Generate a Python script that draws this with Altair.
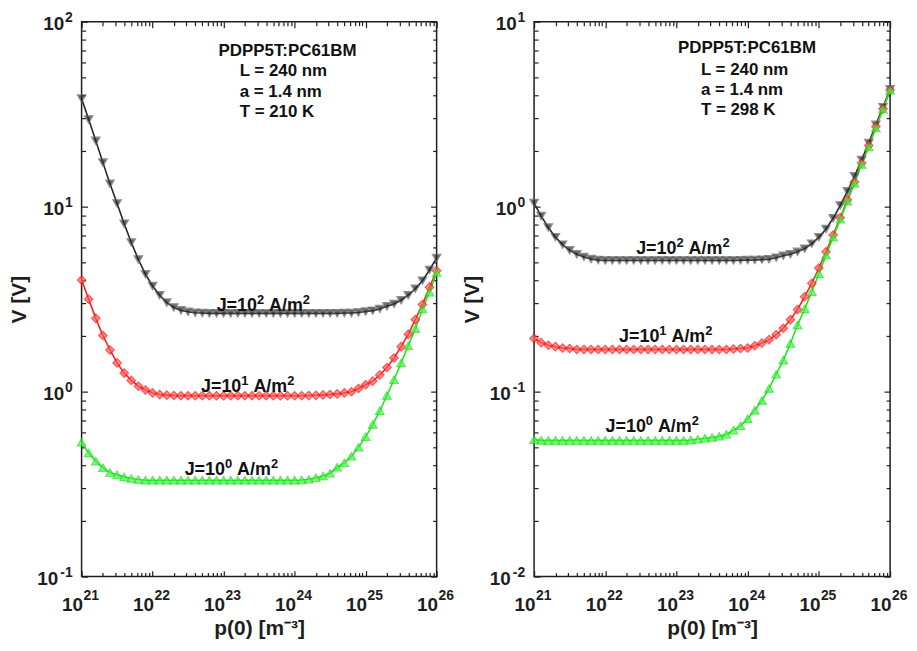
import altair as alt
import pandas as pd

# x grid: log10 of p(0) in m^-3, 0.1-decade steps from 1e21 to 1e26
p_exp = [round(21 + 0.1 * k, 1) for k in range(51)]

series_names = ["J=1e2", "J=1e1", "J=1e0"]

# ---- Left panel (T = 210 K), V in volts ----
left_j100 = [38.4, 29.6, 22.7, 17.3, 13.3, 10.4, 8.09, 6.40, 5.18, 4.31,
             3.72, 3.32, 3.03, 2.85, 2.75, 2.70, 2.67, 2.66, 2.65, 2.65,
             2.65, 2.65, 2.65, 2.65, 2.65, 2.65, 2.65, 2.65, 2.65, 2.65,
             2.65, 2.65, 2.65, 2.65, 2.65, 2.65, 2.65, 2.66, 2.66, 2.68,
             2.71, 2.74, 2.80, 2.89, 2.98, 3.12, 3.32, 3.60, 3.98, 4.55,
             5.28]
left_j10 = [4.01, 3.16, 2.49, 2.01, 1.68, 1.43, 1.26, 1.15, 1.07, 1.02,
            0.984, 0.964, 0.957, 0.953, 0.95, 0.95, 0.95, 0.95, 0.95, 0.95,
            0.95, 0.95, 0.95, 0.95, 0.95, 0.95, 0.95, 0.95, 0.95, 0.95,
            0.95, 0.95, 0.952, 0.955, 0.96, 0.965, 0.972, 0.984, 0.998, 1.04,
            1.09, 1.14, 1.23, 1.35, 1.52, 1.75, 2.04, 2.45, 2.96, 3.67,
            4.50]
left_j1 = [0.532, 0.466, 0.421, 0.388, 0.365, 0.355, 0.346, 0.339, 0.335, 0.332,
           0.332, 0.332, 0.332, 0.332, 0.332, 0.332, 0.332, 0.332, 0.332, 0.332,
           0.332, 0.332, 0.332, 0.332, 0.332, 0.332, 0.332, 0.332, 0.332, 0.332,
           0.332, 0.333, 0.336, 0.342, 0.350, 0.362, 0.390, 0.412, 0.447, 0.500,
           0.570, 0.664, 0.787, 0.953, 1.16, 1.43, 1.77, 2.19, 2.80, 3.45,
           4.40]

# ---- Right panel (T = 298 K) ----
right_j100 = [1.045, 0.889, 0.771, 0.684, 0.623, 0.581, 0.553, 0.535, 0.521, 0.514,
              0.512, 0.512, 0.512, 0.512, 0.512, 0.512, 0.512, 0.512, 0.512, 0.512,
              0.512, 0.512, 0.512, 0.512, 0.512, 0.512, 0.512, 0.512, 0.512, 0.513,
              0.514, 0.515, 0.517, 0.520, 0.530, 0.543, 0.553, 0.570, 0.593, 0.630,
              0.684, 0.757, 0.865, 1.016, 1.21, 1.46, 1.79, 2.21, 2.77, 3.45,
              4.31]
right_j10 = [0.194, 0.184, 0.178, 0.175, 0.172, 0.171, 0.169, 0.169, 0.169, 0.169,
             0.169, 0.169, 0.169, 0.169, 0.169, 0.169, 0.169, 0.169, 0.169, 0.169,
             0.169, 0.169, 0.169, 0.169, 0.169, 0.169, 0.169, 0.169, 0.170, 0.171,
             0.172, 0.177, 0.183, 0.191, 0.203, 0.220, 0.245, 0.278, 0.326, 0.385,
             0.466, 0.570, 0.703, 0.871, 1.09, 1.36, 1.72, 2.14, 2.71, 3.38,
             4.27]
right_j1 = [0.0550, 0.0545, 0.0545, 0.0545, 0.0545, 0.0545, 0.0545, 0.0545, 0.0545, 0.0545,
            0.0545, 0.0545, 0.0545, 0.0545, 0.0545, 0.0545, 0.0545, 0.0545, 0.0545, 0.0545,
            0.0545, 0.0545, 0.0548, 0.0553, 0.0560, 0.0565, 0.0573, 0.0589, 0.0619, 0.0653,
            0.0714, 0.0793, 0.0895, 0.104, 0.124, 0.148, 0.182, 0.229, 0.280, 0.347,
            0.434, 0.547, 0.684, 0.854, 1.07, 1.34, 1.69, 2.10, 2.66, 3.36,
            4.26]

# in-plot curve labels: (log10 p of label centre, V at baseline, exponent of J)
left_curve_labels = [(23.56, 2.74, "2"), (23.34, 1.00, "1"), (23.11, 0.353, "0")]
right_curve_labels = [(23.09, 0.558, "2"), (22.85, 0.185, "1"), (22.66, 0.0604, "0")]

left_title = (23.90, 69.7, "PDPP5T:PC61BM")
left_info = [(23.226, 53.8, "L = 240 nm"), (23.226, 41.7, "a = 1.4  nm"), (23.226, 32.3, "T = 210 K")]
right_title = (23.99, 7.16, "PDPP5T:PC61BM")
right_info = [(23.343, 5.50, "L = 240 nm"), (23.343, 4.26, "a = 1.4 nm"), (23.343, 3.32, "T = 298 K")]

FONT = "Liberation Sans"
INK = "#1e1e1e"
TXT = "#111111"
FRAME = alt.ViewBackground(stroke="#1e1e1e", strokeWidth=1.5)


def build_df(vals_list):
    rows = []
    for name, vals in zip(series_names, vals_list):
        for e, v in zip(p_exp, vals):
            rows.append({"p": 10 ** e, "V": v, "series": name})
    return pd.DataFrame(rows)


def text_df(items):
    return pd.DataFrame([{"p": 10 ** e, "V": v, "text": t} for e, v, t in items])


def panel(df, ydec, width, height, curve_labels, title_item, info_items):
    xdec = list(range(21, 27))
    ymin_v = 10.0 ** ydec[0]
    xs = alt.Scale(type="log", domain=[1e21, 1e26], nice=False)
    ys = alt.Scale(type="log", domain=[ymin_v, 10.0 ** ydec[-1]], nice=False)
    xmaj = [10.0 ** e for e in xdec]
    xmin = [m * 10.0 ** e for e in xdec[:-1] for m in range(2, 10)]
    ymaj = [10.0 ** e for e in ydec]
    ymin = [m * 10.0 ** e for e in ydec[:-1] for m in range(2, 10)]

    common = dict(domain=False, grid=False, tickColor=INK, tickWidth=1.2)
    MAJ, MIN = 6, 4

    def ax(orient, values, size, **kw):
        return alt.Axis(orient=orient, values=values, offset=-size, tickSize=size, **common, **kw)

    nolab = dict(labels=False, title=None)
    lab = dict(labelFont=FONT, labelFontSize=19, labelFontWeight="bold", labelColor=INK,
               labelOverlap=False, labelFlush=False, labelExpr="'10'")
    ttl = dict(titleFont=FONT, titleFontWeight="bold", titleColor=INK)

    x_main = ax("bottom", xmaj, MAJ, labelAlign="right", labelOffset=1,
                labelPadding=19, title="p(0) [m⁻³]", titleFontSize=21,
                titlePadding=3, **lab, **ttl)
    y_main = ax("left", ymaj, MAJ, labelAlign="right", labelBaseline="middle",
                labelOffset=1.5,
                labelPadding={"condition": {"test": "datum.value < 0.99", "value": 24},
                              "value": 18},
                title="V [V]", titleFontSize=21, titlePadding=7, **lab, **ttl)

    enc_x = lambda axis: alt.X("p:Q", scale=xs, axis=axis)
    enc_y = lambda axis: alt.Y("V:Q", scale=ys, axis=axis)

    base = alt.Chart(df)
    lines = base.mark_line(strokeWidth=1.6).encode(
        x=enc_x(x_main), y=enc_y(y_main),
        color=alt.Color("series:N", scale=alt.Scale(domain=series_names,
                        range=["#262626", "#ff2020", "#22e622"]), legend=None),
    )
    points = base.mark_point(filled=True, size=72, strokeWidth=1.2).encode(
        x=enc_x(None), y=enc_y(None),
        shape=alt.Shape("series:N", scale=alt.Scale(domain=series_names,
                        range=["triangle-down", "diamond", "triangle-up"]), legend=None),
        fill=alt.Fill("series:N", scale=alt.Scale(domain=series_names,
                      range=["#262626", "#ff5a5a", "#3cff3c"]), legend=None),
        stroke=alt.Stroke("series:N", scale=alt.Scale(domain=series_names,
                          range=["#606060", "#ff1010", "#1fd81f"]), legend=None),
    )
    ghost = lambda xa, ya: base.mark_point(opacity=0, size=1).encode(x=enc_x(xa), y=enc_y(ya))
    a1 = ghost(ax("bottom", xmin, MIN, **nolab), ax("left", ymin, MIN, **nolab))
    a2 = ghost(ax("top", xmaj, MAJ, **nolab), ax("right", ymaj, MAJ, **nolab))
    a3 = ghost(ax("top", xmin, MIN, **nolab), ax("right", ymin, MIN, **nolab))

    # exponents of the tick labels, placed through the scales
    xexp_df = pd.DataFrame({"p": xmaj, "V": [ymin_v] * len(xmaj), "text": [str(e) for e in xdec]})
    yexp_df = pd.DataFrame({"p": [1e21] * len(ymaj), "V": ymaj, "text": [str(e) for e in ydec]})
    xexp = alt.Chart(xexp_df).mark_text(font=FONT, fontSize=14, fontWeight="bold", color=INK,
                                        align="left", baseline="middle", dx=2, dy=19.5).encode(
        x=enc_x(None), y=enc_y(None), text="text:N")
    yexp = alt.Chart(yexp_df).mark_text(font=FONT, fontSize=14, fontWeight="bold", color=INK,
                                        align="right", baseline="middle", dx=-9, dy=-4).encode(
        x=enc_x(None), y=enc_y(None), text="text:N")

    # curve labels "J=10^n A/m^2" composed of parts
    jdf = text_df(curve_labels)
    jkw = dict(font=FONT, fontWeight="bold", color=TXT, align="left", baseline="alphabetic")
    j1 = alt.Chart(jdf).mark_text(fontSize=18, dx=-47, **jkw).encode(
        x=enc_x(None), y=enc_y(None), text=alt.value("J=10"))
    j2 = alt.Chart(jdf).mark_text(fontSize=13, dx=-6.5, dy=-7, **jkw).encode(
        x=enc_x(None), y=enc_y(None), text="text:N")
    j3 = alt.Chart(jdf).mark_text(fontSize=18, dx=5.7, **jkw).encode(
        x=enc_x(None), y=enc_y(None), text=alt.value("A/m"))
    j4 = alt.Chart(jdf).mark_text(fontSize=13, dx=39.7, dy=-7, **jkw).encode(
        x=enc_x(None), y=enc_y(None), text=alt.value("2"))

    tt = alt.Chart(text_df([title_item])).mark_text(
        font=FONT, fontSize=17, fontWeight="bold", color=TXT,
        align="center", baseline="middle").encode(
        x=enc_x(None), y=enc_y(None), text="text:N")
    ti = alt.Chart(text_df(info_items)).mark_text(
        font=FONT, fontSize=17, fontWeight="bold", color=TXT,
        align="left", baseline="middle").encode(
        x=enc_x(None), y=enc_y(None), text="text:N")

    return alt.layer(lines, points, a1, a2, a3, xexp, yexp, j1, j2, j3, j4, tt, ti).resolve_axis(
        x="independent", y="independent").properties(width=width, height=height, view=FRAME)


left = panel(build_df([left_j100, left_j10, left_j1]), [-1, 0, 1, 2], 357, 558,
             left_curve_labels, left_title, left_info)
right = panel(build_df([right_j100, right_j10, right_j1]), [-2, -1, 0, 1], 358, 558,
              right_curve_labels, right_title, right_info)

chart = alt.hconcat(left, right, spacing=5).properties(
    padding={"left": 0, "top": 0, "right": 0, "bottom": 0},
    background="white",
).configure_view(stroke="#1e1e1e", strokeWidth=1.5)

chart.save("out.html", embed_options={"renderer": "svg", "actions": False})
